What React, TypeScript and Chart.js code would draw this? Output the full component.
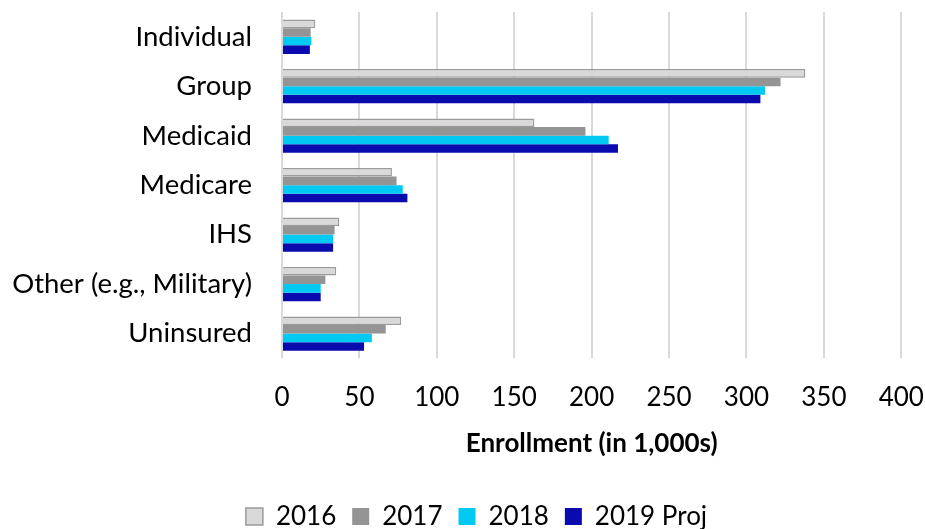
import React, { useEffect, useRef } from "react";
import { Chart, registerables } from "chart.js";

Chart.register(...registerables);

const categories = ["Individual", "Group", "Medicaid", "Medicare", "IHS", "Other (e.g., Military)", "Uninsured"];
const values2016 = [21.5, 338, 163, 71, 37, 35, 77];
const values2017 = [18.5, 322, 196, 74, 34, 28, 67];
const values2018 = [19, 312, 211, 78, 33, 25, 58];
const values2019 = [18, 309, 217, 81, 33, 25, 53];
const seriesLabels = ["2016", "2017", "2018", "2019 Proj"];
const xTicks = [0, 50, 100, 150, 200, 250, 300, 350, 400];
const axisTitle = "Enrollment (in 1,000s)";

const FONT = "Lato, 'Noto Sans', sans-serif";

const legendShift = {
  id: "legendShift",
  afterLayout(chart: any) {
    const lg = chart.legend;
    if (!lg) return;
    lg.left += 14;
    lg.right += 14;
    lg.top += 10.5;
    lg.bottom += 10.5;
  },
};

export default function App() {
  const ref = useRef<HTMLCanvasElement | null>(null);
  useEffect(() => {
    document.body.style.margin = "0";
    const ctx = ref.current!.getContext("2d")!;
    const chart = new Chart(ctx, {
      type: "bar",
      data: {
        labels: categories,
        datasets: [
          { label: seriesLabels[0], data: values2016, backgroundColor: "#d9d9d9", borderColor: "#9b9b9b", borderWidth: 1.5 },
          { label: seriesLabels[1], data: values2017, backgroundColor: "#949494", borderColor: "#949494", borderWidth: 0 },
          { label: seriesLabels[2], data: values2018, backgroundColor: "#02c9f2", borderColor: "#02c9f2", borderWidth: 0 },
          { label: seriesLabels[3], data: values2019, backgroundColor: "#0a0aae", borderColor: "#0a0aae", borderWidth: 0 },
        ],
      },
      options: {
        indexAxis: "y",
        animation: false,
        responsive: false,
        maintainAspectRatio: false,
        layout: { padding: { top: 12, right: 0, bottom: 0, left: 0 } },
        datasets: { bar: { categoryPercentage: 0.693, barPercentage: 1.0 } },
        scales: {
          x: {
            min: 0,
            max: 400,
            afterBuildTicks: (scale: any) => {
              scale.ticks = xTicks.map((v) => ({ value: v }));
            },
            afterFit: (scale: any) => {
              scale.paddingLeft = 0;
              scale.paddingRight = 23.7;
              scale.height = 118.7;
            },
            grid: { color: "#d9d9d9", lineWidth: 2, drawTicks: false },
            border: { display: false },
            ticks: { color: "#000", font: { family: FONT, size: 26 }, padding: 24, maxRotation: 0 },
            title: {
              display: true,
              text: axisTitle,
              color: "#000",
              font: { family: FONT, size: 26, weight: "bold" },
              padding: { top: 14, bottom: 18 },
            },
          },
          y: {
            grid: { display: false, drawTicks: false },
            border: { display: false },
            ticks: { color: "#000", font: { family: FONT, size: 27.5 }, padding: 30 },
            afterFit: (scale: any) => {
              scale.width = 282;
              scale.paddingTop = 0;
              scale.paddingBottom = 0;
            },
          },
        },
        plugins: {
          legend: {
            position: "bottom",
            labels: {
              color: "#000",
              font: { family: FONT, size: 26 },
              boxWidth: 17,
              boxHeight: 17,
              padding: 16,
            },
          },
          tooltip: { enabled: false },
        },
      },
      plugins: [legendShift],
    });
    return () => chart.destroy();
  }, []);
  return (
    <div style={{ width: 925, height: 529 }}>
      <canvas ref={ref} width={925} height={529} style={{ display: "block" }} />
    </div>
  );
}
